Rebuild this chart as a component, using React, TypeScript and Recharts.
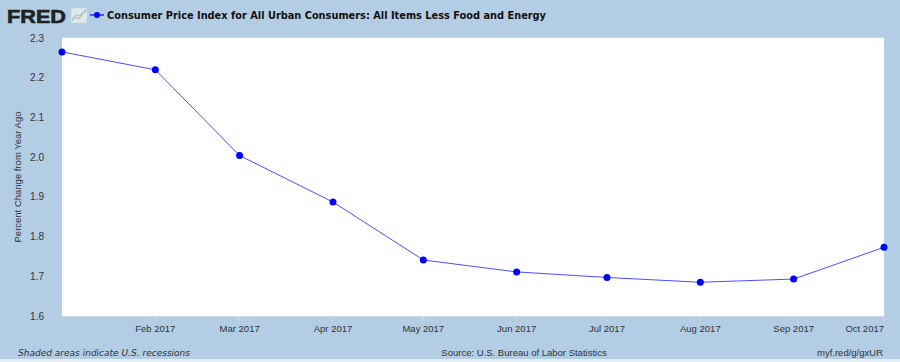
import React from "react";
import { LineChart, Line, XAxis, YAxis, CartesianGrid } from "recharts";

const months = ["2017-01-01","2017-02-01","2017-03-01","2017-04-01","2017-05-01","2017-06-01","2017-07-01","2017-08-01","2017-09-01","2017-10-01"];
const cpiValues = [2.265, 2.22, 2.004, 1.887, 1.741, 1.711, 1.697, 1.685, 1.693, 1.773];
const tickLabels = ["Feb 2017","Mar 2017","Apr 2017","May 2017","Jun 2017","Jul 2017","Aug 2017","Sep 2017","Oct 2017"];
const tickDates = ["2017-02-01","2017-03-01","2017-04-01","2017-05-01","2017-06-01","2017-07-01","2017-08-01","2017-09-01","2017-10-01"];
const yTicks = [1.6, 1.7, 1.8, 1.9, 2.0, 2.1, 2.2, 2.3];

const ts = (s: string) => Date.parse(s + "T00:00:00Z");
const data = months.map((m, i) => ({ t: ts(m), v: cpiValues[i] }));
const xTicks = tickDates.map(ts);
const labelMap: Record<number, string> = {};
xTicks.forEach((t, i) => (labelMap[t] = tickLabels[i]));

const BG = "#b3cde4";
const TXT = "#333333";

const XTick = (props: any) => {
  const { x, y, payload, index } = props;
  const last = index === xTicks.length - 1;
  return (
    <g>
      <line x1={x} x2={x} y1={y - 8} y2={y - 3} stroke="#d9d9d9" strokeWidth={1} />
      <text x={x} y={y + 8} textAnchor={last ? "end" : "middle"} fontSize={9.5} fill={TXT} fontFamily="Liberation Sans, Arial, sans-serif">
        {labelMap[payload.value]}
      </text>
    </g>
  );
};

export default function App() {
  return (
    <div style={{ position: "absolute", left: 0, top: 0, width: 900, height: 362, background: BG, overflow: "hidden" }}>
      <svg width={900} height={362} style={{ position: "absolute", left: 0, top: 0 }}>
        <rect x={0} y={359} width={900} height={3} fill="#e4ecf4" />
        <text x={7} y={23} fontSize={19} fontWeight="bold" fill="#222" stroke="#222" strokeWidth={0.6} fontFamily="Liberation Sans, Arial, sans-serif" textLength={59} lengthAdjust="spacingAndGlyphs">FRED</text>
        <rect x={71} y={8} width={16} height={15} fill="#dfe6ec" stroke="#c8d0d8" strokeWidth={0.5} />
        <polyline points="72,21 76,17 79,19 83,13 86,11" fill="none" stroke="#8fc48a" strokeWidth={1} />
        <polyline points="72,19 76,15 80,16 86,9" fill="none" stroke="#9fb8d8" strokeWidth={1} />
        <line x1={90} x2={104} y1={15} y2={15} stroke="#0000ff" strokeWidth={1.2} />
        <circle cx={97} cy={15} r={3} fill="#0000ff" />
        <text x={107} y={19} fontSize={11} fontWeight="bold" fill="#111" fontFamily="DejaVu Sans, Verdana, sans-serif" textLength={439} lengthAdjust="spacingAndGlyphs">
          Consumer Price Index for All Urban Consumers: All Items Less Food and Energy
        </text>
        <text x={18} y={356} fontSize={9} fontStyle="italic" fill={TXT} fontFamily="DejaVu Sans, Verdana, sans-serif" textLength={172} lengthAdjust="spacingAndGlyphs">
          Shaded areas indicate U.S. recessions
        </text>
        <text x={524} y={356} fontSize={9.5} textAnchor="middle" fill={TXT} fontFamily="Liberation Sans, Arial, sans-serif">
          Source: U.S. Bureau of Labor Statistics
        </text>
        <text x={883} y={356} fontSize={9.5} textAnchor="end" fill={TXT} fontFamily="Liberation Sans, Arial, sans-serif">
          myf.red/g/gxUR
        </text>
        <text x={0} y={0} transform="translate(21,177) rotate(-90)" fontSize={9.5} textAnchor="middle" fill={TXT} fontFamily="Liberation Sans, Arial, sans-serif">
          Percent Change from Year Ago
        </text>
      </svg>
      <div style={{ position: "absolute", left: 0, top: 0 }}>
        <LineChart width={900} height={362} data={data} margin={{ top: 38, right: 16, bottom: 16, left: 0 }}>
          <rect x={62} y={38} width={822} height={278} fill="#ffffff" />
          <CartesianGrid horizontal={true} vertical={false} stroke="#e6e6e6" fill="#ffffff" />
          <XAxis
            dataKey="t"
            type="number"
            scale="time"
            domain={[data[0].t, data[data.length - 1].t]}
            ticks={xTicks}
            tick={<XTick />}
            tickLine={false}
            axisLine={false}
            height={30}
            interval={0}
          />
          <YAxis
            domain={[1.6, 2.3]}
            ticks={yTicks}
            tickFormatter={(v: number) => v.toFixed(1)}
            width={62}
            tickLine={false}
            axisLine={false}
            tickMargin={12}
            tick={{ fontSize: 10, fill: TXT, fontFamily: "Liberation Sans, Arial, sans-serif" }}
            allowDataOverflow
          />
          <Line
            dataKey="v"
            type="linear"
            stroke="#0000ff"
            strokeOpacity={0.7}
            strokeWidth={1}
            dot={{ r: 3.5, fill: "#0000ff", stroke: "none", fillOpacity: 1 }}
            isAnimationActive={false}
          />
        </LineChart>
      </div>
    </div>
  );
}
